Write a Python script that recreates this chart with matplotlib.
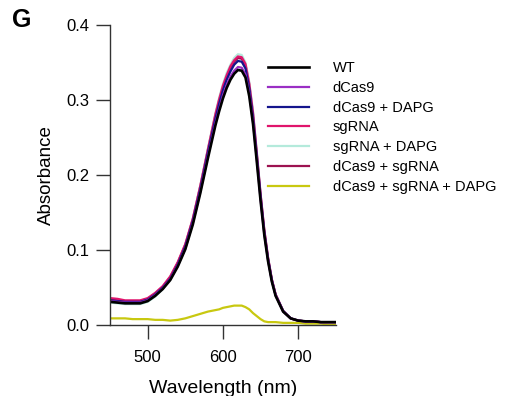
import matplotlib
matplotlib.use('Agg')
import matplotlib.pyplot as plt

plt.rcParams['font.family'] = ['Liberation Sans', 'DejaVu Sans']

# wavelength grid (nm), finer around the peak
wavelength = [450, 460, 470, 480, 490, 500, 510, 520, 530, 540, 550, 560, 570, 580,
              590, 595, 600, 605, 610, 615, 620, 625, 630, 635, 640, 645, 650, 655,
              660, 665, 670, 680, 690, 700, 710, 720, 730, 740, 750]

wt = [0.031, 0.030, 0.029, 0.029, 0.029, 0.032, 0.039, 0.048, 0.060, 0.078, 0.101, 0.134, 0.176, 0.222,
      0.266, 0.285, 0.302, 0.316, 0.327, 0.335, 0.340, 0.339, 0.330, 0.305, 0.268, 0.218, 0.166, 0.120,
      0.085, 0.058, 0.039, 0.018, 0.009, 0.006, 0.005, 0.005, 0.004, 0.004, 0.004]
dcas9 = [0.032, 0.031, 0.030, 0.030, 0.030, 0.033, 0.040, 0.049, 0.061, 0.079, 0.102, 0.136, 0.178, 0.225,
         0.269, 0.288, 0.306, 0.320, 0.331, 0.339, 0.344, 0.343, 0.334, 0.309, 0.271, 0.221, 0.168, 0.121,
         0.086, 0.059, 0.040, 0.018, 0.009, 0.006, 0.005, 0.005, 0.004, 0.004, 0.004]
dcas9_dapg = [0.033, 0.032, 0.031, 0.031, 0.031, 0.034, 0.041, 0.050, 0.062, 0.081, 0.105, 0.139, 0.182, 0.230,
              0.275, 0.295, 0.313, 0.327, 0.338, 0.347, 0.352, 0.351, 0.342, 0.316, 0.277, 0.226, 0.172, 0.124,
              0.088, 0.060, 0.040, 0.019, 0.009, 0.006, 0.005, 0.005, 0.004, 0.004, 0.004]
sgrna = [0.036, 0.035, 0.033, 0.033, 0.033, 0.036, 0.043, 0.052, 0.065, 0.084, 0.108, 0.142, 0.186, 0.234,
         0.281, 0.301, 0.319, 0.333, 0.345, 0.353, 0.358, 0.357, 0.348, 0.322, 0.283, 0.230, 0.175, 0.127,
         0.090, 0.061, 0.041, 0.019, 0.009, 0.006, 0.005, 0.005, 0.004, 0.004, 0.004]
sgrna_dapg = [0.030, 0.029, 0.028, 0.028, 0.028, 0.031, 0.038, 0.048, 0.061, 0.081, 0.106, 0.141, 0.186, 0.235,
              0.282, 0.303, 0.321, 0.336, 0.347, 0.356, 0.361, 0.360, 0.350, 0.324, 0.285, 0.232, 0.176, 0.127,
              0.090, 0.061, 0.041, 0.019, 0.009, 0.006, 0.005, 0.005, 0.004, 0.004, 0.004]
dcas9_sgrna = [0.034, 0.033, 0.032, 0.032, 0.032, 0.035, 0.042, 0.051, 0.064, 0.083, 0.107, 0.141, 0.185, 0.233,
               0.279, 0.299, 0.317, 0.331, 0.343, 0.351, 0.356, 0.355, 0.346, 0.320, 0.281, 0.228, 0.174, 0.126,
               0.089, 0.061, 0.041, 0.019, 0.009, 0.006, 0.005, 0.005, 0.004, 0.004, 0.004]
dcas9_sgrna_dapg = [0.009, 0.009, 0.009, 0.008, 0.008, 0.008, 0.007, 0.007, 0.006, 0.007, 0.009, 0.012, 0.015, 0.018,
                    0.020, 0.021, 0.023, 0.024, 0.025, 0.026, 0.026, 0.026, 0.024, 0.021, 0.016, 0.012, 0.008, 0.005,
                    0.004, 0.004, 0.004, 0.003, 0.003, 0.003, 0.002, 0.002, 0.002, 0.001, 0.001]

labels = ['WT', 'dCas9', 'dCas9 + DAPG', 'sgRNA', 'sgRNA + DAPG', 'dCas9 + sgRNA', 'dCas9 + sgRNA + DAPG']
series = [wt, dcas9, dcas9_dapg, sgrna, sgrna_dapg, dcas9_sgrna, dcas9_sgrna_dapg]
colors = ['#000000', '#9a2fc4', '#14148c', '#e0146c', '#b4eadb', '#9c1250', '#c8c810']
widths = [1.9, 1.6, 1.6, 1.6, 1.6, 1.6, 1.6]

fig = plt.figure(figsize=(5.19, 3.96), dpi=100)
ax = fig.add_axes([0.212, 0.179, 0.435, 0.758])

handles = [None] * len(series)
# draw WT last so it sits on top
for i in reversed(range(len(series))):
    h, = ax.plot(wavelength, series[i], color=colors[i], lw=widths[i], label=labels[i])
    handles[i] = h

ax.set_xlim(450, 750)
ax.set_ylim(0, 0.4)
ax.set_xticks([500, 600, 700])
ax.set_yticks([0.0, 0.1, 0.2, 0.3, 0.4])
ax.set_yticklabels(['0.0', '0.1', '0.2', '0.3', '0.4'])
for s in ['top', 'right']:
    ax.spines[s].set_visible(False)
for s in ['left', 'bottom']:
    ax.spines[s].set_color('#333333')
    ax.spines[s].set_linewidth(1.0)
ax.tick_params(direction='out', length=10, width=1, color='#333333', labelsize=12)
ax.tick_params(axis='x', pad=8)
ax.tick_params(axis='y', pad=5)

ax.set_xlabel('Wavelength (nm)', fontsize=14, labelpad=11)
ax.set_ylabel('Absorbance', fontsize=13.5, labelpad=8)

ax.legend(handles, labels, loc='upper left', bbox_to_anchor=(0.699, 0.88), frameon=False,
          fontsize=10.5, handlelength=2.85, handletextpad=1.6, labelspacing=0.4, borderpad=0,
          borderaxespad=0)

fig.text(12 / 519, 1 - 27 / 396, 'G', fontsize=18, fontweight='bold', ha='left', va='baseline')

fig.savefig('out.png', dpi=100)
